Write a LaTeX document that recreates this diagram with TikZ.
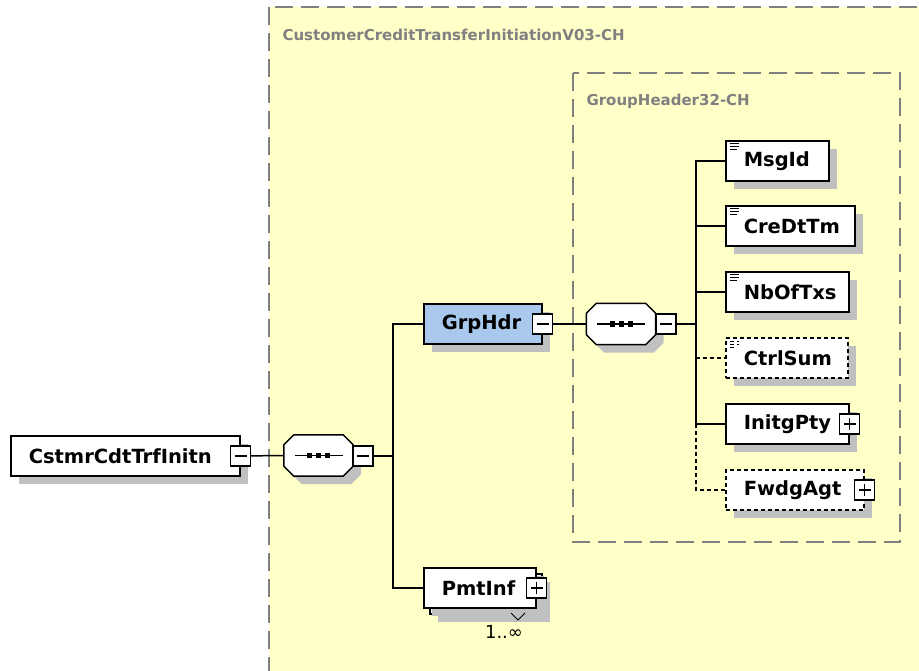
\documentclass[tikz,border=0pt]{standalone}
\usepackage{fontspec}
\setmainfont{DejaVu Sans}
\usetikzlibrary{shadows}

\definecolor{bgyellow}{RGB}{255,255,200}
\definecolor{boxgray}{RGB}{128,128,128}
\definecolor{shadowgray}{RGB}{192,192,192}
\definecolor{hdrblue}{RGB}{168,200,236}

% octagon of a sequence compositor, shifted by (#2,#3)
\newcommand{\octpath}[3]{([xshift=#2+10pt,yshift=#3]#1.north west) -- ([xshift=#2-10pt,yshift=#3]#1.north east)
  -- ([xshift=#2,yshift=#3-10pt]#1.north east) -- ([xshift=#2,yshift=#3+10pt]#1.south east)
  -- ([xshift=#2-10pt,yshift=#3]#1.south east) -- ([xshift=#2+10pt,yshift=#3]#1.south west)
  -- ([xshift=#2,yshift=#3+10pt]#1.south west) -- ([xshift=#2,yshift=#3-10pt]#1.north west) -- cycle}

\begin{document}
\begin{tikzpicture}[x=1pt,y=-1pt,
  elem/.style={draw, line width=1.5pt, fill=white, anchor=west, text width=#1,
    inner xsep=18pt, inner ysep=0pt, minimum height=40pt, align=left,
    font=\bfseries\fontsize{19.5}{19.5}\selectfont,
    drop shadow={shadow xshift=8pt, shadow yshift=-8pt, fill=shadowgray, opacity=1}},
  optional/.style={dash pattern=on 4pt off 3pt},
  simple/.style={path picture={
    \draw[line width=1pt] ([xshift=4pt,yshift=-3pt]path picture bounding box.north west) -- ++(9pt,0)
          ([xshift=4pt,yshift=-6pt]path picture bounding box.north west) -- ++(9pt,0)
          ([xshift=4pt,yshift=-9pt]path picture bounding box.north west) -- ++(7pt,0);}},
  minusbox/.style={draw, line width=1.3pt, fill=white, minimum size=20pt, inner sep=0pt,
    path picture={\draw[line width=1.2pt] ([xshift=4pt]path picture bounding box.west) -- ([xshift=-4pt]path picture bounding box.east);}},
  plusbox/.style={draw, line width=1.3pt, fill=white, minimum size=20pt, inner sep=0pt,
    path picture={\draw[line width=1.2pt] ([xshift=4pt]path picture bounding box.west) -- ([xshift=-4pt]path picture bounding box.east)
      ([yshift=-4pt]path picture bounding box.north) -- ([yshift=4pt]path picture bounding box.south);}},
  seq/.style={minimum width=69pt, minimum height=41pt, inner sep=0pt},
  grouplabel/.style={anchor=west, text=boxgray, font=\bfseries\fontsize{15}{15}\selectfont},
  link/.style={line width=1.5pt}]

\useasboundingbox (0,0) rectangle (919,671);

% group boxes
\draw[boxgray, fill=bgyellow, dash pattern=on 18pt off 8pt, line width=1.2pt] (269,7) rectangle (940,700);
\node[grouplabel] (ccti) at (279,35) {CustomerCreditTransferInitiationV03-CH};
\draw[boxgray, dash pattern=on 18pt off 8pt, line width=1.2pt] (573,73) rectangle (900,542);
\node[grouplabel] (gh32) at (583,101) {GroupHeader32-CH};

% root
\node[elem=193pt] (root) at (10,456) {CstmrCdtTrfInitn};
\node[minusbox] (root-m) at (root.east) {};
\node[seq] (seq1) at (318.5,455.5) {};
\coordinate (fork1) at (393,456);

% level 1
\node[elem=82pt, fill=hdrblue] (grphdr) at (423,324) {GrpHdr};
\node[minusbox] (grphdr-m) at (grphdr.east) {};
\node[seq] (seq2) at (621,324) {};
\coordinate (fork2) at (696,324);

% sequence compositors
\foreach \s in {seq1,seq2} {
  \fill[shadowgray] \octpath{\s}{8pt}{-8pt};
  \draw[line width=1.5pt, fill=white] \octpath{\s}{0pt}{0pt};
  \draw[line width=1.3pt] ([xshift=-24pt]\s.center) -- ([xshift=24pt]\s.center);
  \foreach \dx in {-9,0,9}
    \fill ([xshift=\dx pt-2.5pt,yshift=-2.5pt]\s.center) rectangle ([xshift=\dx pt+2.5pt,yshift=2.5pt]\s.center);
}
\node[minusbox] (seq1-m) at (363,456) {};
\node[minusbox] (seq2-m) at (666,324) {};

\node[elem=76pt, draw=none, fill=none, drop shadow={shadow xshift=14pt, shadow yshift=-14pt, fill=shadowgray, opacity=1}] (pmtinf-s) at (423,588) {\phantom{PmtInf}};
\node[elem=76pt, drop shadow={opacity=0}] (pmtinf-b) at (429,594) {\phantom{PmtInf}};
\node[elem=76pt, drop shadow={opacity=0}] (pmtinf) at (423,588) {PmtInf};
\node[plusbox] (pmtinf-p) at (pmtinf.east) {};
\draw[line width=1pt] (511,613) -- (518,620) -- (525,613);
\node[font=\fontsize{18}{18}\selectfont] (pmtinf-occ) at (504,632) {1..∞};

% level 2
\node[elem=67pt, simple] (msgid) at (725,161) {MsgId};
\node[elem=93pt, simple] (credttm) at (725,226) {CreDtTm};
\node[elem=87pt, simple] (nboftxs) at (725,292) {NbOfTxs};
\node[elem=86pt, simple, optional] (ctrlsum) at (725,358) {CtrlSum};
\node[elem=87pt] (initgpty) at (725,424) {InitgPty};
\node[plusbox] (initgpty-p) at (initgpty.east) {};
\node[elem=102pt, optional] (fwdgagt) at (725,490) {FwdgAgt};
\node[plusbox] (fwdgagt-p) at (fwdgagt.east) {};

% connectors
\draw[link] (root-m) -- (seq1.west);
\draw[link] (seq1-m) -- (fork1);
\draw[link] (grphdr.west) -| (fork1) |- (pmtinf.west);
\draw[link] (grphdr-m) -- (seq2.west);
\draw[link] (seq2-m) -- (fork2);
\draw[link] (msgid.west) -| (fork2) |- (initgpty.west);
\draw[link] (fork2 |- credttm.west) -- (credttm.west);
\draw[link] (fork2 |- nboftxs.west) -- (nboftxs.west);
\draw[link, optional] (fork2 |- ctrlsum.west) -- (ctrlsum.west);
\draw[link, optional] (fork2 |- initgpty.west) |- (fwdgagt.west);
\end{tikzpicture}
\end{document}
